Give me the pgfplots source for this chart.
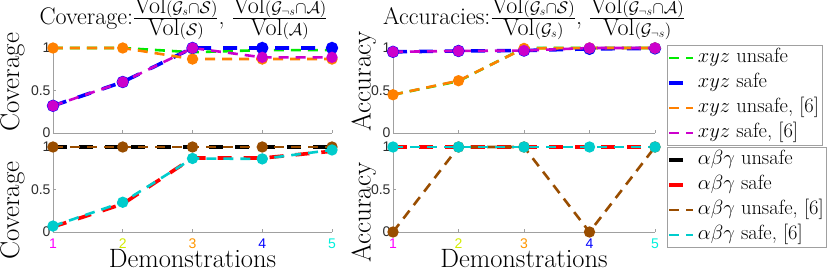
\RequirePackage{fix-cm}
\documentclass[border=0pt]{standalone}
\usepackage{fontspec}
\setsansfont{Liberation Sans}
\usepackage{pgfplots}
\pgfplotsset{compat=1.18}
\definecolor{cgreen}{RGB}{0,235,0}
\definecolor{cblue}{RGB}{0,0,255}
\definecolor{corange}{RGB}{255,128,0}
\definecolor{cmag}{RGB}{204,0,204}
\definecolor{cbrown}{RGB}{153,77,0}
\definecolor{ccyan}{RGB}{0,204,204}
\definecolor{cred}{RGB}{255,0,0}
\definecolor{axgray}{RGB}{160,160,160}
\definecolor{tickgray}{RGB}{45,45,45}
\definecolor{t1}{RGB}{255,0,255}
\definecolor{t2}{RGB}{210,235,0}
\definecolor{t3}{RGB}{255,150,0}
\definecolor{t4}{RGB}{0,0,255}
\definecolor{t5}{RGB}{0,240,220}
\pgfplotsset{
  myaxis/.style={
    scale only axis, height=85pt, xmin=1, xmax=5, ymin=0, ymax=1, clip=false,
    axis x line*=bottom, axis y line*=left,
    axis line style={draw=axgray, line width=0.8pt},
    xtick={1,2,3,4,5}, ytick={0,0.5,1}, yticklabels={0,0.5,1},
    tick align=inside, major tick length=3pt,
    every tick/.style={axgray, line width=0.6pt},
    tick label style={font=\fontsize{14}{16}\selectfont\sffamily, text=tickgray},
    yticklabel style={xshift=1pt},
    xticklabel style={yshift=-3.5pt},
    ylabel style={font=\fontsize{27}{32}\selectfont, anchor=center, rotate=0},
    xlabel style={font=\fontsize{26.5}{32}\selectfont, anchor=base, at={(axis description cs:0.5,-0.4235)}},
    title style={font=\fontsize{24}{29}\selectfont, anchor=center},
    legend image code/.code={\draw[#1, mark=none] (0pt,0pt) -- (24pt,0pt);},
    legend cell align=left,
  },
  topax/.style={xticklabels={,,,,}},
  botax/.style={xticklabels={\textcolor{t1}{1},\textcolor{t2}{2},\textcolor{t3}{3},\textcolor{t4}{4},\textcolor{t5}{5}}, xlabel={Demonstrations}},
  dsh/.style={line width=2.6pt, dash pattern=on 10pt off 7pt},
  lng/.style={line width=3.6pt, dash pattern=on 14pt off 12pt},
  mk/.style={mark=*, mark size=4.3pt, mark options={solid, draw=none, fill=#1}},
  leg/.style={legend style={at={(rel axis cs:1.0458,#1)}, anchor=north west, draw=axgray, line width=0.7pt,
      font=\fontsize{20.5}{23}\selectfont, inner xsep=0pt, inner ysep=0pt, row sep=0pt,
      nodes={text height=14.5pt, text depth=5pt, inner xsep=3pt, inner ysep=2.75pt}}},
}
\begin{document}
\begin{tikzpicture}[x=1pt,y=1pt]
\path[use as bounding box] (0,0) rectangle (831,271);

% top-left: coverage xyz
\begin{axis}[myaxis, topax, width=279pt, at={(53pt,138pt)}, anchor=south west,
  ylabel={Coverage}, ylabel style={at={(axis description cs:-0.145,0.6)}},
  title={Coverage:$\frac{\mbox{Vol}(\mathcal{G}_s\cap\mathcal{S})}{\mbox{Vol}(\mathcal{S})}$, $\frac{\mbox{Vol}(\mathcal{G}_{\neg s}\cap\mathcal{A})}{\mbox{Vol}(\mathcal{A})}$},
  title style={at={(axis description cs:0.468,1.282)}}]
\addplot[cgreen, dsh] coordinates {(1,1)(2,1)(3,0.95)(4,0.975)(5,0.975)};
\addplot[cblue, lng, mk=cblue] coordinates {(1,0.32)(2,0.6)(3,1)(4,1)(5,1)};
\addplot[corange, dsh, mk=corange] coordinates {(1,1)(2,1)(3,0.87)(4,0.87)(5,0.87)};
\addplot[cmag, dsh, mk=cmag] coordinates {(1,0.32)(2,0.6)(3,1)(4,0.89)(5,0.89)};
\end{axis}

% bottom-left: coverage abg
\begin{axis}[myaxis, botax, width=279pt, at={(53pt,39pt)}, anchor=south west,
  ylabel={Coverage}, ylabel style={at={(axis description cs:-0.145,0.253)}}]
\addplot[black, lng] coordinates {(1,1)(2,1)(3,1)(4,1)(5,1)};
\addplot[cred, lng] coordinates {(1,0.06)(2,0.33)(3,0.87)(4,0.87)(5,0.95)};
\addplot[cbrown, dsh, mk=cbrown] coordinates {(1,1)(2,1)(3,1)(4,1)(5,1)};
\addplot[ccyan, dsh, mk=ccyan] coordinates {(1,0.07)(2,0.35)(3,0.865)(4,0.86)(5,0.965)};
\end{axis}

% top-right: accuracy xyz
\begin{axis}[myaxis, topax, width=262pt, at={(393pt,138pt)}, anchor=south west,
  ylabel={Accuracy}, ylabel style={at={(axis description cs:-0.111,0.61)}},
  title={Accuracies:$\frac{\mbox{Vol}(\mathcal{G}_s\cap\mathcal{S})}{\mbox{Vol}(\mathcal{G}_s)}$, $\frac{\mbox{Vol}(\mathcal{G}_{\neg s}\cap\mathcal{A})}{\mbox{Vol}(\mathcal{G}_{\neg s})}$},
  title style={at={(axis description cs:0.538,1.282)}},
  leg=1.035]
\addplot[cgreen, dsh] coordinates {(1,0.45)(2,0.61)(3,1)(4,1)(5,1)};
\addlegendentry{$xyz$ unsafe}
\addplot[cblue, lng, mk=cblue] coordinates {(1,0.955)(2,0.965)(3,0.97)(4,0.99)(5,0.995)};
\addlegendentry{$xyz$ safe}
\addplot[corange, dsh, mk=corange] coordinates {(1,0.45)(2,0.615)(3,0.995)(4,1)(5,1)};
\addlegendentry{$xyz$ unsafe, [6]}
\addplot[cmag, dsh, mk=cmag] coordinates {(1,0.955)(2,0.965)(3,0.97)(4,1)(5,1)};
\addlegendentry{$xyz$ safe, [6]}
\end{axis}

% bottom-right: accuracy abg
\begin{axis}[myaxis, botax, width=262pt, at={(393pt,39pt)}, anchor=south west,
  ylabel={Accuracy}, ylabel style={at={(axis description cs:-0.111,0.23)}},
  leg=1.0]
\addplot[black, lng] coordinates {(1,1)(2,1)(3,1)(4,1)(5,1)};
\addlegendentry{$\alpha\beta\gamma$ unsafe}
\addplot[cred, lng] coordinates {(1,1)(2,1)(3,1)(4,1)(5,1)};
\addlegendentry{$\alpha\beta\gamma$ safe}
\addplot[cbrown, dsh, mk=cbrown] coordinates {(1,0)(2,1)(3,1)(4,0)(5,1)};
\addlegendentry{$\alpha\beta\gamma$ unsafe, [6]}
\addplot[ccyan, dsh, mk=ccyan] coordinates {(1,1)(2,1)(3,1)(4,1)(5,1)};
\addlegendentry{$\alpha\beta\gamma$ safe, [6]}
\end{axis}
\end{tikzpicture}
\end{document}
